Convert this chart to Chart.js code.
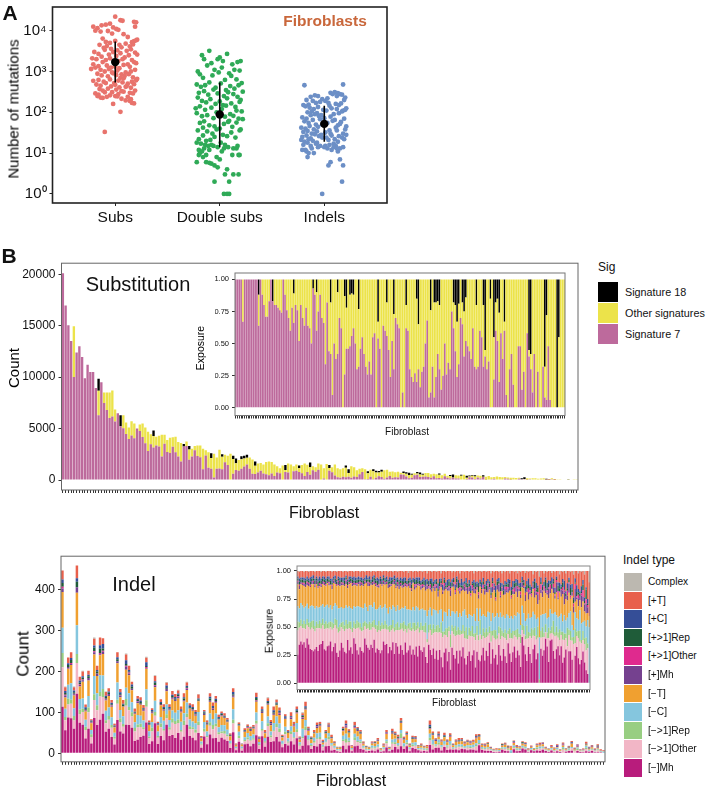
<!DOCTYPE html>
<html>
<head>
<meta charset="utf-8">
<title>Fibroblasts</title>
<script src="https://cdn.jsdelivr.net/npm/chart.js@4"></script>
<style>
    html, body { margin: 0; padding: 0; background: #fff; }
    #page { position: relative; width: 706px; height: 790px; overflow: hidden; font-family: "Liberation Sans", Arial, sans-serif; color: #111; }
    #page canvas { position: absolute; }
    #page canvas.soft { filter: blur(0.35px); }
    .txt { position: absolute; white-space: nowrap; line-height: 1; transform: translate(-50%, -50%); }
    .left { transform: translate(0, -50%); }
    .up { transform: translate(-50%, -50%) rotate(-90deg); color: #000; }
    .swatch { position: absolute; }
</style>
</head>
<body>
<div id="page"></div>
<script>
// ========== panel A data ==========
const groupNames = ['Subs', 'Double subs', 'Indels']
const mutationTicks = [1, 10, 100, 1000, 10000]
const mutationTickLabels = ['10⁰', '10¹', '10²', '10³', '10⁴']
const medians = [1700, 88, 52]
const rangeLow = [537, 14, 19]
const rangeHigh = [5400, 537, 145]

const subsX = [1.00,1.05,1.07,0.79,0.83,0.87,0.91,0.95,0.98,1.01,1.18,1.20,1.19,0.81,0.86,
    0.93,0.97,1.03,1.08,1.12,1.16,1.21,0.88,0.91,0.95,1.00,1.04,1.10,1.14,1.18,
    1.20,1.17,0.85,0.89,0.92,0.96,1.02,1.06,1.11,1.15,1.19,0.80,0.84,0.90,0.94,
    0.98,1.01,1.05,1.09,1.13,1.21,0.78,0.82,0.87,0.91,0.95,0.99,1.03,1.07,1.12,
    1.16,1.20,0.79,0.84,0.88,0.92,0.96,1.00,1.04,1.08,1.14,1.18,0.77,0.81,0.86,
    0.90,0.94,0.98,1.02,1.06,1.10,1.15,1.19,0.83,0.87,0.93,0.97,1.01,1.05,1.09,
    1.13,1.17,1.21,0.79,0.84,0.89,0.95,0.99,1.03,1.08,1.12,1.16,1.20,0.82,0.86,
    0.91,0.96,1.00,1.04,1.07,1.11,1.15,1.18,0.85,0.88,0.93,0.97,1.01,1.06,1.10,
    1.14,1.19,0.81,0.84,0.90,0.95,1.00,1.03,1.08,1.12,1.17,0.83,0.86,0.88,0.92,
    1.06,1.10,1.14,1.16,1.18,0.98,1.15,1.05,0.90,1.02]
const subsY = [22000,18000,17500,12500,11500,13500,14000,14800,12000,11000,16500,16000,12500,10000,9500,
    9800,8500,10500,8200,7000,5200,6000,6400,5300,5000,5600,4500,4800,4100,5500,
    5800,4600,4500,3800,4200,3600,3300,3900,3200,3500,2900,3000,2700,3400,2600,
    3000,2400,2800,2200,2500,2600,2100,2000,2300,1900,2100,1700,1800,2000,1500,
    1900,1600,1500,1350,1700,1400,1250,1300,1200,1450,1300,1700,1150,1250,1100,
    1000,1150,900,1050,850,950,1000,1100,880,800,760,950,820,700,780,
    860,720,660,590,620,560,640,520,600,680,500,560,610,480,450,
    520,430,470,410,540,440,400,490,370,340,380,310,360,330,420,
    300,340,290,270,310,260,250,280,320,240,290,250,230,225,240,
    215,195,190,170,165,160,210,103,33,245]

const doubleX = [1.90,1.83,2.07,2.20,2.00,1.98,2.03,1.85,2.12,2.17,1.79,1.92,2.02,2.14,1.88,
    1.95,2.09,2.19,1.81,1.84,1.93,1.99,2.05,2.11,2.16,2.21,1.78,1.82,1.86,1.90,
    1.96,2.01,2.06,2.10,2.14,2.18,2.22,1.80,1.85,1.89,1.94,1.98,2.04,2.08,2.13,
    2.17,2.20,1.79,1.83,1.87,1.91,1.96,2.00,2.03,2.07,2.11,2.15,2.19,1.77,1.81,
    1.86,1.92,1.97,2.02,2.06,2.10,2.16,2.21,1.78,1.83,1.88,1.94,1.99,2.05,2.09,
    2.13,2.18,2.22,1.81,1.85,1.90,1.95,2.00,2.04,2.08,2.12,2.16,2.20,1.79,1.84,
    1.88,1.93,1.97,2.03,2.07,2.11,2.15,2.19,1.80,1.84,1.87,1.91,1.95,2.01,2.05,
    1.78,1.82,1.86,1.89,1.92,1.94,1.98,2.04,2.08,2.13,2.17,1.80,1.83,1.85,1.90,
    2.02,2.16,2.19,1.81,1.80,1.84,1.87,1.97,2.00,2.12,2.18,1.78,1.92,1.95,1.98,
    1.87,2.07,2.05,2.13,2.18,1.95,2.09,2.04,2.07,2.09,1.90]
const doubleY = [3200,2500,2700,1800,2200,2000,1800,2000,1500,1700,1000,1600,1250,1100,1400,
    1100,900,1050,850,700,800,950,620,780,640,520,480,420,460,540,
    400,510,350,440,380,460,320,300,330,270,360,290,250,310,280,
    240,200,230,190,175,210,160,185,150,220,165,135,180,125,140,
    115,130,100,120,145,90,110,105,95,80,85,72,88,78,62,
    82,70,68,55,60,48,45,40,52,58,44,56,38,36,42,
    34,30,38,28,26,32,24,36,22,27,20,21,25,18,16,
    18,17,16,15,16,15,14,13,14,13,15,12,11,13,12,
    11,13,9,10,9,8,9,8,7,9,9,6,5.5,5,4.5,
    6,4,3,3,3,2,2,1,1,1,5.8]

const indelsX = [2.81,3.18,2.87,2.91,2.94,3.06,3.10,3.13,3.15,3.17,3.20,2.83,2.89,2.98,3.03,
    3.08,3.12,3.19,2.80,2.85,2.92,2.96,3.01,3.05,3.11,3.16,3.21,2.82,2.86,2.90,
    2.94,2.99,3.04,3.07,3.14,3.18,3.20,2.84,2.88,2.93,2.97,3.02,3.09,3.12,3.17,
    2.79,2.83,2.87,2.91,2.95,3.00,3.06,3.10,3.14,3.19,2.81,2.85,2.89,2.92,2.96,
    3.03,3.08,3.13,3.16,3.21,2.78,2.82,2.86,2.90,2.94,2.98,3.05,3.11,3.15,3.20,
    2.80,2.84,2.88,2.93,2.97,3.01,3.07,3.12,3.18,2.79,2.83,2.87,2.91,2.95,3.02,
    3.06,3.10,3.14,3.17,3.21,2.78,2.81,2.85,2.89,2.93,2.98,3.04,3.09,3.13,3.19,
    2.80,2.84,2.87,2.92,2.96,3.00,3.05,3.11,3.15,3.18,2.79,2.83,2.88,2.94,3.03,
    3.07,3.09,3.13,2.85,2.90,2.84,3.06,3.15,3.18,3.04,3.17,2.98,2.82,3.12,3.01]
const indelsY = [460,480,240,260,250,300,310,295,280,270,230,200,190,210,220,
    280,250,200,150,155,170,180,190,145,160,165,125,140,130,120,
    135,115,170,125,150,110,115,100,105,95,85,110,90,120,105,
    75,70,85,90,80,72,78,65,95,70,60,55,65,50,68,
    55,62,48,58,45,42,40,46,38,44,50,36,42,52,38,
    33,35,30,34,28,32,27,36,30,25,27,23,29,26,24,
    30,22,26,24,28,21,19,22,20,18,24,21,17,19,22,
    16,18,15,17,15,14,16,15,13,14,12,11,13,14,13,
    12,14,11,10,10,8,6,7,5,5,2,1,12,13,15]

// ========== substitution data ==========
const countTicksSub = [0, 5000, 10000, 15000, 20000]
const exposureTicks = [0, 0.25, 0.5, 0.75, 1]
const sigNames = ['Signature 18', 'Other signatures', 'Signature 7']
const sigColors = ['#000000', '#ece34a', '#bd6a9c']

const subsTotal = [20100,16950,15050,13500,14950,12400,13000,11950,9900,11200,10500,10500,8950,9850,9500,8500,8500,8500,8700,6850,
    6500,6300,6300,5600,5100,5700,5500,5000,5400,5500,5100,4700,4450,4800,4200,4300,4400,4400,3900,4100,
    4150,4200,3700,3600,3500,3750,3300,3050,3300,3350,3350,3050,2900,2700,2600,2550,2200,2950,2500,2450,
    2350,2550,2350,2100,1950,2300,2350,2450,2200,2000,1800,1600,1650,1500,1750,1800,1750,1500,1350,1150,
    1400,1450,1600,1500,1350,1500,1400,1450,1600,1480,1700,1350,1250,1600,1500,1150,1550,1450,1250,1500,
    1150,1050,1150,1400,1050,1350,1250,950,1100,1150,1050,850,1000,1050,900,880,1000,950,1000,800,
    820,760,800,700,820,760,700,620,650,780,720,600,690,680,560,600,560,640,470,600,
    420,480,530,470,440,500,520,420,430,480,470,440,410,470,320,380,280,300,330,290,
    270,300,240,210,220,190,210,180,260,170,150,180,160,130,150,170,120,110,160,90,
    80,70,60,50,40,60,30,20]
const sig7Share = [100,100,100,100,67,100,100,100,100,100,100,100,100,64,100,88,80,71,71,83,
    100,83,80,80,78,76,74,100,88,76,70,60,78,66,80,76,52,80,70,64,
    78,64,62,50,93,88,60,75,88,70,66,34,82,44,42,10,50,38,42,70,
    62,0,26,46,46,48,56,62,50,30,32,46,55,42,32,26,36,26,55,58,
    0,54,46,0,64,60,56,45,24,52,30,70,65,62,0,12,0,62,60,30,
    24,20,27,20,30,16,28,32,50,68,8,12,32,8,24,42,30,14,25,50,
    26,35,30,75,62,44,24,34,70,65,40,52,48,44,38,62,32,30,32,60,
    55,32,40,30,36,0,0,22,60,52,20,58,38,60,10,0,30,42,18,0,
    0,48,48,14,28,0,58,40,30,12,42,0,28,0,0,32,8,6,48,6,
    0,0,0,0,0,0,0,0]
const sig18Share = [0,0,0,0,0,0,0,0,0,0,0,0,0,12,0,0,0,0,0,0,
    0,17,0,0,0,0,0,0,0,0,0,0,0,11,0,0,0,0,0,0,
    0,0,0,0,7,0,10,0,0,0,0,0,0,0,18,0,0,0,10,0,
    0,0,13,22,0,12,11,12,0,0,23,0,0,0,0,0,0,0,0,0,
    0,33,0,0,0,0,18,0,0,0,27,0,0,0,0,0,0,20,0,0,
    0,0,0,15,35,0,0,0,0,0,0,24,0,18,18,17,20,0,0,0,
    0,0,0,0,18,20,33,19,0,18,25,14,0,0,0,0,0,20,0,0,
    0,20,55,0,0,15,0,45,18,15,26,0,0,33,0,0,0,0,0,0,
    0,0,0,0,0,0,0,55,58,0,0,0,0,0,0,0,68,28,0,0,
    0,0,0,100,45,0,0,0]

// ========== indel data ==========
const countTicksIndel = [0, 100, 200, 300, 400]
const indelNames = ['Complex', '[+T]', '[+C]', '[+>1]Rep', '[+>1]Other', '[+]Mh', '[−T]', '[−C]', '[−>1]Rep', '[−>1]Other', '[−]Mh']
const indelColors = ['#bcb8b0', '#e8604c', '#354e97', '#1f5c39', '#df2a8e', '#75418f', '#f0a030', '#85c6de', '#98ce82', '#f2b6c6', '#b81c7c']

const indelTotal = [447,163,234,247,163,459,187,202,119,202,83,283,214,283,281,151,159,130,73,247,
    157,130,244,214,175,110,140,137,118,236,80,110,191,77,132,120,174,120,152,145,
    155,114,147,175,122,120,106,145,42,106,81,147,124,140,95,102,98,86,49,159,
    24,76,24,61,71,65,69,148,41,114,57,137,81,114,132,112,45,96,57,100,
    77,114,41,100,126,65,41,57,75,77,33,57,75,45,29,16,16,65,80,59,
    20,77,64,57,29,18,16,29,29,37,12,24,57,16,60,53,45,86,41,53,
    24,43,42,20,24,18,20,80,53,37,53,34,50,34,49,24,34,37,37,29,
    33,31,33,47,47,24,24,27,16,11,12,12,24,26,19,18,31,20,18,29,
    27,12,19,12,24,26,27,16,12,20,14,22,10,26,12,18,30,14,22,10,
    12,28,16,20,12,22,10,8]
const mhDel = [26,36,38,36,38,33,41,36,32,30,29,31,33,30,35,36,38,31,30,33,
    34,38,30,33,36,28,24,30,36,33,29,27,40,30,32,27,41,36,30,26,
    33,30,28,41,35,33,31,36,32,40,28,32,30,27,30,38,33,36,28,34,
    30,37,26,38,33,28,35,30,26,37,28,31,35,27,30,26,33,24,34,30,
    29,33,24,18,35,30,26,32,22,29,21,30,24,14,28,31,20,27,12,30,
    25,22,29,18,30,24,32,22,16,26,28,20,24,30,14,27,22,18,25,31,
    20,29,24,35,18,30,22,27,16,33,26,20,30,24,18,35,27,20,28,33,
    22,30,25,15,40,33,28,20,34,26,18,30,36,22,27,0,31,24,30,40,
    34,18,38,41,28,22,30,35,26,33,18,24,30,0,28,30,20,0,26,33,
    22,17,20,28,18,12,8,0]
const otherDel = [22,16,14,15,13,17,12,16,18,20,20,16,17,21,15,14,14,18,20,16,
    15,13,20,17,16,22,22,18,14,17,19,22,10,20,16,20,9,13,20,24,
    16,18,20,11,14,18,18,14,19,11,21,15,18,20,19,11,14,13,22,14,
    18,12,20,12,15,22,14,19,21,12,18,20,14,22,18,21,15,25,12,18,
    20,14,22,18,11,18,18,14,24,16,24,16,22,26,16,12,22,18,20,14,
    18,20,14,26,14,20,12,18,22,16,14,22,16,12,24,14,18,22,14,10,
    20,12,18,8,20,12,18,14,22,10,15,22,10,16,20,8,14,22,12,10,
    18,10,16,22,6,10,14,20,8,16,22,12,8,18,14,0,10,16,12,6,
    8,20,6,6,14,20,12,8,14,10,20,16,10,30,14,10,16,34,12,10,
    18,20,14,10,16,18,22,0]
const repDel = [8,5,6,4,7,5,6,4,7,6,8,5,6,4,7,5,6,5,7,4,
    6,5,7,4,6,8,5,6,4,7,5,8,5,6,7,4,6,5,7,5,
    6,4,7,5,6,4,8,6,5,7,4,6,8,5,6,4,7,5,3,6,
    5,8,4,6,7,3,6,5,9,4,6,5,7,3,6,8,4,6,5,7,
    4,6,9,3,7,5,6,8,3,6,7,4,10,5,3,6,8,4,11,5,
    6,9,4,7,5,3,8,6,10,4,7,5,9,3,6,8,5,12,4,7,
    5,8,3,6,10,4,7,9,3,6,11,5,4,8,6,3,9,5,7,4,
    6,10,3,8,5,7,4,12,6,3,9,5,8,4,10,3,6,9,4,7,
    5,9,3,6,12,4,8,5,10,3,7,6,4,15,5,9,3,6,14,4,
    6,10,3,8,5,12,4,0]
const cDel = [14,13,15,17,12,16,14,13,15,14,13,16,14,15,12,16,13,15,14,17,
    13,15,12,16,14,13,17,15,14,12,16,13,15,14,12,17,14,15,13,14,
    15,18,13,16,14,12,15,17,13,16,14,15,12,18,13,16,14,15,12,17,
    14,13,18,12,15,16,13,14,12,17,15,13,12,16,14,11,17,13,15,12,
    16,14,11,20,13,15,12,14,17,13,10,16,12,9,18,14,11,15,16,12,
    14,11,17,9,15,13,12,19,10,16,12,14,8,18,11,15,13,9,17,12,
    14,10,18,12,9,16,11,13,19,8,14,12,15,10,17,13,9,16,11,14,
    12,15,18,9,16,11,14,6,17,13,10,16,12,15,8,30,14,11,17,10,
    13,9,19,12,6,18,10,14,12,16,9,17,12,8,14,18,10,6,15,12,
    10,18,14,8,15,10,20,50]
const tDel = [20,18,17,19,20,18,17,21,18,19,20,19,20,18,19,17,18,20,18,19,
    20,18,19,21,17,18,21,20,19,22,20,19,18,20,22,21,19,20,18,20,
    19,21,20,18,22,23,18,19,20,17,21,20,18,19,20,21,17,22,24,19,
    21,19,20,22,17,20,21,18,19,18,20,22,20,18,21,19,17,20,22,18,
    19,21,18,24,20,16,22,19,17,20,15,18,20,24,19,21,23,16,18,20,
    22,17,21,24,18,23,19,16,21,23,20,17,22,19,24,16,21,18,20,22,
    19,22,17,20,21,18,24,15,20,22,14,23,18,21,19,20,25,16,22,19,
    21,14,20,25,16,22,19,24,13,21,18,20,16,22,12,27,20,15,21,18,
    22,16,14,23,18,12,20,17,22,15,24,10,19,14,18,12,25,15,10,17,
    12,9,14,18,8,12,6,10]
const mhIns = [2,3,2,1,2,3,2,2,1,3,2,2,3,1,2,2,3,2,1,2,
    2,1,3,2,2,1,3,2,2,1,2,3,2,1,2,2,3,1,2,2,
    3,1,2,2,1,3,2,1,2,3,2,1,2,3,1,2,2,1,3,2,
    1,2,3,1,2,4,2,1,3,2,1,2,4,2,1,3,2,2,1,3,
    2,1,4,3,1,2,3,1,4,2,5,1,3,2,4,1,2,3,5,1,
    3,2,5,1,3,2,1,4,2,6,3,1,2,5,3,1,4,2,3,1,
    4,2,6,1,3,5,2,1,4,6,2,3,1,5,2,4,7,1,3,2,
    5,8,2,3,4,1,6,2,7,3,1,4,6,2,9,0,3,5,1,4,
    2,8,4,1,5,3,9,2,1,6,3,11,2,4,8,1,3,5,12,2,
    7,3,10,4,6,9,5,0]
const otherIns = [1,1,0,1,1,0,1,1,1,0,1,1,0,1,1,1,0,1,1,0,
    1,0,1,1,0,1,1,0,1,1,0,1,1,1,0,1,0,1,1,0,
    1,1,0,1,0,1,1,0,1,0,1,1,1,0,1,1,0,1,0,1,
    1,0,1,1,2,0,1,1,0,1,2,0,1,1,0,2,1,0,1,1,
    2,1,0,1,1,3,0,1,2,1,0,2,1,1,3,0,1,1,2,0,
    1,2,0,1,3,1,0,2,1,0,1,2,3,0,1,1,2,0,1,3,
    1,0,2,1,0,3,1,2,0,1,4,1,0,2,3,1,0,2,1,4,
    0,2,1,3,0,1,2,0,4,1,2,0,3,1,2,0,5,1,3,0,
    2,1,4,0,3,1,2,6,0,1,3,2,0,4,1,2,0,3,5,1,
    3,0,2,6,1,4,2,0]
const repIns = [2,3,2,3,2,3,2,2,3,2,2,3,2,4,2,3,2,2,3,2,
    2,3,2,1,3,2,2,3,2,1,3,2,3,2,2,3,1,2,3,2,
    2,2,3,1,2,2,3,2,2,3,2,4,1,2,2,3,2,2,3,2,
    3,2,1,3,2,3,2,4,2,2,1,3,2,3,2,2,4,1,3,2,
    2,4,1,3,2,3,5,2,1,3,2,4,2,1,3,2,2,4,1,3,
    2,1,3,5,2,2,3,1,4,2,3,2,1,4,2,3,6,2,1,3,
    2,4,1,3,2,2,1,5,3,2,4,1,3,2,2,3,1,5,2,4,
    3,1,2,4,2,3,1,5,2,3,2,1,6,2,4,0,2,3,1,8,
    2,3,1,4,2,2,1,5,3,2,4,1,3,2,2,7,2,3,1,4,
    2,3,1,5,2,9,1,0]
const cIns = [2,3,2,2,3,2,3,2,4,2,3,2,2,3,4,2,2,3,2,2,
    3,2,4,2,3,2,2,3,2,4,3,2,2,3,2,2,4,3,2,3,
    2,3,2,2,4,2,3,2,3,2,2,3,4,2,3,2,2,3,2,4,
    3,2,3,4,2,2,3,2,4,3,2,2,3,5,2,3,2,4,3,2,
    2,3,5,2,3,2,4,2,3,2,5,3,2,4,2,3,5,2,4,3,
    2,4,2,3,2,6,3,2,4,2,3,5,2,3,4,2,3,2,5,3,
    2,4,3,2,5,3,2,6,2,3,4,2,5,3,2,4,2,3,6,2,
    3,5,2,4,3,2,5,3,7,2,4,2,3,6,2,0,4,2,3,2,
    5,3,2,6,2,4,2,3,5,2,3,8,2,4,2,3,5,2,4,6,
    3,2,5,4,3,2,4,0]
const tIns = [5,6,6,6,5,7,5,6,6,5,4,6,5,7,5,6,5,5,6,5,
    5,7,6,5,4,7,5,6,6,5,6,4,7,5,5,6,4,6,6,5,
    5,6,7,5,4,6,5,7,5,4,6,6,7,5,6,4,6,5,7,6,
    6,5,4,7,5,8,6,7,5,6,9,5,6,8,5,7,6,5,6,9,
    7,6,8,5,9,7,6,10,8,6,11,7,5,12,6,9,8,7,10,6,
    6,11,5,8,9,7,10,8,6,12,7,13,9,6,10,8,11,7,9,6,
    12,8,7,9,13,6,10,14,7,5,11,9,12,8,10,7,6,15,9,8,
    7,6,11,10,5,8,13,9,6,12,14,6,7,10,13,17,6,12,8,6,
    10,8,9,4,7,14,5,11,8,12,6,9,16,10,6,12,11,20,7,13,
    14,18,12,8,20,15,24,30]
const complexAll = [0,1,0,0,1,0,0,1,0,0,0,1,0,0,0,1,0,0,1,0,
    0,0,1,0,0,1,0,0,0,1,0,0,1,0,0,0,1,0,0,0,
    1,0,0,1,0,0,0,1,0,0,1,0,0,0,1,0,0,0,1,0,
    0,1,0,0,1,0,0,0,1,0,0,2,0,0,1,0,0,1,0,0,
    1,0,0,2,0,0,1,0,0,1,0,0,2,0,0,1,0,0,0,1,
    0,1,0,0,2,0,0,1,0,0,1,0,0,2,0,1,0,0,1,0,
    0,1,0,0,2,0,1,0,0,1,0,2,0,1,0,0,2,0,0,1,
    0,2,0,1,0,0,2,0,1,0,0,3,0,1,0,4,0,0,2,0,
    1,0,0,2,0,1,0,0,3,0,1,0,2,0,0,1,0,3,0,0,
    2,0,1,0,3,0,0,10]

// ========== helpers ==========
Chart.defaults.font.family = '"Liberation Sans", Arial, sans-serif'
Chart.defaults.color = '#111'
Chart.defaults.animation = false
Chart.defaults.plugins.legend.display = false
Chart.defaults.plugins.tooltip.enabled = false

const page = document.getElementById('page')

// frame round the plot area, ggplot style
const panelFrame = {
    id: 'panelFrame',
    afterDatasetsDraw(chart, args, opts) {
        const a = chart.chartArea
        const c = chart.ctx
        c.save()
        c.strokeStyle = opts.color
        c.lineWidth = opts.width
        c.strokeRect(a.left, a.top, a.right - a.left, a.bottom - a.top)
        c.restore()
    }
}
Chart.register(panelFrame)

function addText(text, x, y, size, extra) {
    const el = document.createElement('div')
    el.className = 'txt ' + ((extra && extra.cls) || '')
    el.textContent = text
    el.style.left = x + 'px'
    el.style.top = y + 'px'
    el.style.fontSize = size + 'px'
    if (extra && extra.color) el.style.color = extra.color
    if (extra && extra.bold) el.style.fontWeight = 'bold'
    page.appendChild(el)
}

function addSwatch(color, x, y, w, h) {
    const el = document.createElement('div')
    el.className = 'swatch'
    el.style.cssText = `left:${x}px;top:${y}px;width:${w}px;height:${h}px;background:${color}`
    page.appendChild(el)
}

// canvas placed so that the plot area lands on box
function addCanvas(box) {
    const pad = 10
    const c = document.createElement('canvas')
    c.width = box.right + pad - (box.left - box.axisW)
    c.height = box.bottom + box.axisH - (box.top - pad)
    c.style.left = (box.left - box.axisW) + 'px'
    c.style.top = (box.top - pad) + 'px'
    page.appendChild(c)
    return { canvas: c, pad: pad }
}

function barPanel(box, labels, series, yTicks, yRange, tickFormat, tickSize, barWidth, frameColor) {
    const { canvas, pad } = addCanvas(box)
    canvas.className = 'soft'
    return new Chart(canvas, {
        type: 'bar',
        data: {
            labels: labels,
            datasets: series.map(s => ({
                label: s.label,
                data: s.data,
                backgroundColor: s.color,
                borderWidth: 0,
                barPercentage: barWidth,
                categoryPercentage: 1
            }))
        },
        options: {
            responsive: false,
            layout: { padding: { top: pad, right: pad, left: 0, bottom: 0 } },
            plugins: { panelFrame: { color: frameColor, width: 1 } },
            scales: {
                x: {
                    stacked: true,
                    offset: true,
                    afterFit: s => { s.height = box.axisH },
                    border: { display: false },
                    ticks: { display: false },
                    grid: { offset: false, drawOnChartArea: false, tickLength: 3, color: '#333', lineWidth: 1 }
                },
                y: {
                    stacked: true,
                    min: yRange[0],
                    max: yRange[1],
                    afterFit: s => { s.width = box.axisW },
                    afterBuildTicks: s => { s.ticks = yTicks.map(v => ({ value: v })) },
                    border: { display: false },
                    ticks: { font: { size: tickSize }, padding: 3, color: '#111', callback: tickFormat },
                    grid: { drawOnChartArea: false, tickLength: 3, color: '#333' }
                }
            }
        }
    })
}

// share of each series in one bar
function sharesOf(lists) {
    return lists.map(list => list.map((v, i) => {
        const sum = lists.reduce((t, l) => t + l[i], 0)
        return sum ? v / sum : 0
    }))
}

// ========== panel A ==========
function drawMutations() {
    const box = { left: 52.5, top: 5, right: 387, bottom: 203, axisW: 52.5, axisH: 32 }
    const { canvas, pad } = addCanvas(box)
    const pts = (xs, ys) => xs.map((x, i) => ({ x: x, y: ys[i] }))
    const cloud = (label, xs, ys, color) => ({ label: label, data: pts(xs, ys), backgroundColor: color, borderWidth: 0, pointRadius: 2.4 })
    const rangeLine = i => ({
        label: groupNames[i] + ' range',
        data: [{ x: i + 1, y: rangeLow[i] }, { x: i + 1, y: rangeHigh[i] }],
        showLine: true, borderColor: '#000', borderWidth: 1.6, pointRadius: 0
    })
    new Chart(canvas, {
        type: 'scatter',
        data: {
            datasets: [
                { label: 'Median', data: medians.map((m, i) => ({ x: i + 1, y: m })), backgroundColor: '#000', borderWidth: 0, pointRadius: 4.2 },
                rangeLine(0), rangeLine(1), rangeLine(2),
                cloud(groupNames[0], subsX, subsY, '#e8736c'),
                cloud(groupNames[1], doubleX, doubleY, '#2faa57'),
                cloud(groupNames[2], indelsX, indelsY, '#6c8fc6')
            ]
        },
        options: {
            responsive: false,
            layout: { padding: { top: pad, right: pad, left: 0, bottom: 0 } },
            plugins: { panelFrame: { color: '#222', width: 1.6 } },
            scales: {
                x: {
                    type: 'linear',
                    min: 0.4,
                    max: 3.6,
                    afterFit: s => { s.height = box.axisH },
                    afterBuildTicks: s => { s.ticks = groupNames.map((n, i) => ({ value: i + 1 })) },
                    border: { display: false },
                    ticks: { font: { size: 15.5 }, color: '#111', padding: 2, maxRotation: 0, callback: v => groupNames[v - 1] },
                    grid: { drawOnChartArea: false, tickLength: 3, color: '#222' }
                },
                y: {
                    type: 'logarithmic',
                    min: 0.63,
                    max: 38000,
                    afterFit: s => { s.width = box.axisW },
                    afterBuildTicks: s => { s.ticks = mutationTicks.map(v => ({ value: v })) },
                    border: { display: false },
                    ticks: { font: { size: 15 }, color: '#111', padding: 3, callback: v => mutationTickLabels[mutationTicks.indexOf(v)] },
                    grid: { drawOnChartArea: false, tickLength: 3, color: '#222' }
                }
            }
        }
    })
    addText('Number of mutations', 13, 109, 15, { cls: 'up' })
    addText('Fibroblasts', 325, 21, 15.5, { bold: true, color: '#c9673b' })
    addText('A', 10, 12, 21, { bold: true })
}

// ========== panel B, substitutions ==========
function drawSubstitutions() {
    const labels = subsTotal.map((v, i) => 'F' + (i + 1))
    const otherShare = sig7Share.map((v, i) => Math.max(0, 100 - v - sig18Share[i]))
    const shares = sharesOf([sig7Share, otherShare, sig18Share])
    const order = [2, 1, 0]
    const seriesShare = shares.map((data, i) => ({ label: sigNames[order[i]], color: sigColors[order[i]], data: data }))
    const seriesCount = shares.map((data, i) => ({
        label: sigNames[order[i]], color: sigColors[order[i]], data: data.map((v, j) => v * subsTotal[j])
    }))
    barPanel({ left: 61.5, top: 263, right: 578, bottom: 490, axisW: 61.5, axisH: 14 }, labels, seriesCount,
        countTicksSub, [-970, 21070], v => String(v), 12, 0.86, '#666')
    barPanel({ left: 235, top: 273, right: 565, bottom: 417, axisW: 20, axisH: 6 }, labels, seriesShare,
        exposureTicks, [-0.06, 1.05], v => v.toFixed(2), 7.5, 0.9, '#777')
    addText('Count', 13, 368, 15, { cls: 'up' })
    addText('Fibroblast', 324, 513, 16)
    addText('Substitution', 138, 284, 20)
    addText('Exposure', 200, 348, 10.5, { cls: 'up' })
    addText('Fibroblast', 407, 432, 10)
    addText('B', 9, 255, 21, { bold: true })
    addText('Sig', 598, 267, 12, { cls: 'left' })
    sigNames.forEach((n, i) => {
        addSwatch(sigColors[i], 598, 282 + i * 21, 20, 20)
        addText(n, 625, 292 + i * 21, 10.8, { cls: 'left' })
    })
}

// ========== panel B, indels ==========
function drawIndels() {
    const labels = indelTotal.map((v, i) => 'F' + (i + 1))
    const lists = [mhDel, otherDel, repDel, cDel, tDel, mhIns, otherIns, repIns, cIns, tIns, complexAll]
    const shares = sharesOf(lists)
    const seriesShare = shares.map((data, i) => ({ label: indelNames[10 - i], color: indelColors[10 - i], data: data }))
    const seriesCount = shares.map((data, i) => ({
        label: indelNames[10 - i], color: indelColors[10 - i], data: data.map((v, j) => v * indelTotal[j])
    }))
    barPanel({ left: 61, top: 556, right: 605, bottom: 762, axisW: 61, axisH: 10 }, labels, seriesCount,
        countTicksIndel, [-21, 482], v => String(v), 12, 0.86, '#666')
    barPanel({ left: 296.5, top: 566, right: 590, bottom: 691, axisW: 20, axisH: 6 }, labels, seriesShare,
        exposureTicks, [-0.055, 1.044], v => v.toFixed(2), 7.5, 0.9, '#888')
    addText('Count', 23, 654, 17, { cls: 'up' })
    addText('Fibroblast', 351, 781, 16)
    addText('Indel', 134, 584, 20)
    addText('Exposure', 269, 631, 10.5, { cls: 'up' })
    addText('Fibroblast', 454, 703, 10)
    addText('Indel type', 623, 560, 12, { cls: 'left' })
    indelNames.forEach((n, i) => {
        addSwatch(indelColors[i], 623.5, 573 + i * 18.6, 18, 17.6)
        addText(n, 648, 582 + i * 18.6, 10.2, { cls: 'left' })
    })
}

drawMutations()
drawSubstitutions()
drawIndels()
</script>
</body>
</html>
